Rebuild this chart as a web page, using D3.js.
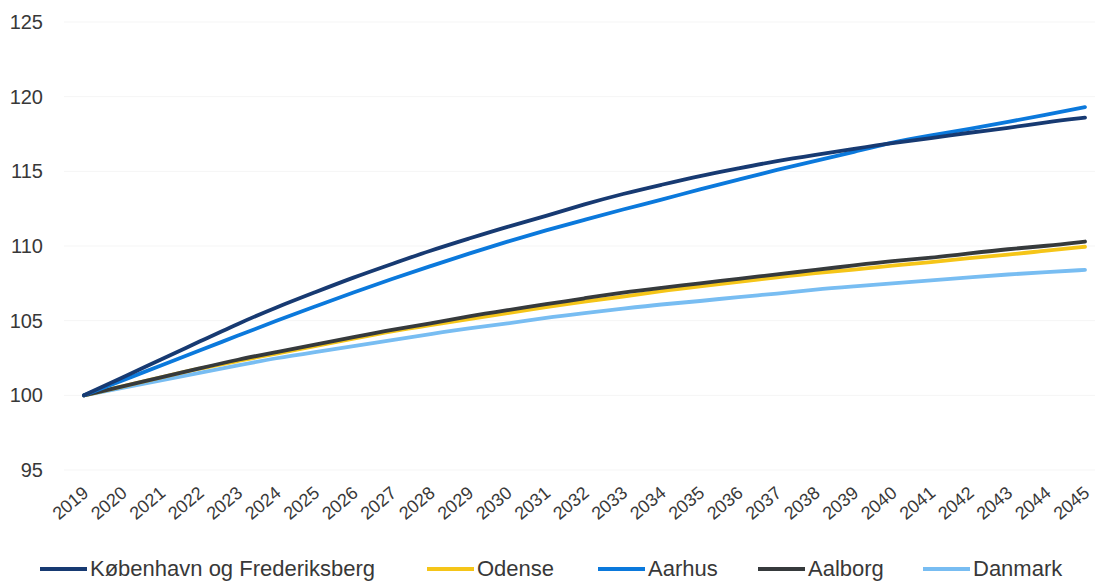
<!DOCTYPE html>
<html>
<head>
<meta charset="utf-8">
<script src="https://cdn.jsdelivr.net/npm/d3@7"></script>
<style>
  html, body { margin: 0; padding: 0; background: #ffffff; }
  svg { display: block; font-family: "Liberation Sans", Arial, sans-serif; }
</style>
</head>
<body>
<svg id="chart" width="1097" height="582"></svg>
<script>
// Befolkningsfremskrivning, indeks 2019 = 100
const years = d3.range(2019, 2046);

const kobenhavn = [100.0, 101.2, 102.4, 103.6, 104.8, 105.9, 106.9, 107.9, 108.8, 109.7,
  110.5, 111.3, 112.0, 112.8, 113.5, 114.1, 114.7, 115.2, 115.7, 116.1,
  116.5, 116.9, 117.2, 117.6, 117.9, 118.3, 118.6];
const odense = [100.0, 100.6, 101.2, 101.8, 102.3, 102.8, 103.3, 103.8, 104.3, 104.7,
  105.1, 105.5, 105.9, 106.3, 106.6, 107.0, 107.3, 107.6, 107.9, 108.2,
  108.4, 108.7, 108.9, 109.2, 109.4, 109.7, 109.95];
const aarhus = [100.0, 101.0, 102.0, 103.0, 104.0, 105.0, 105.95, 106.9, 107.8, 108.65,
  109.5, 110.3, 111.05, 111.75, 112.45, 113.1, 113.8, 114.45, 115.1, 115.7,
  116.3, 116.95, 117.4, 117.85, 118.3, 118.8, 119.3];
const aalborg = [100.0, 100.6, 101.2, 101.8, 102.4, 102.9, 103.4, 103.9, 104.4, 104.8,
  105.3, 105.7, 106.1, 106.5, 106.9, 107.2, 107.5, 107.8, 108.1, 108.4,
  108.7, 109.0, 109.2, 109.5, 109.8, 110.0, 110.3];
const danmark = [100.0, 100.5, 101.0, 101.5, 102.0, 102.5, 102.9, 103.3, 103.7, 104.1,
  104.5, 104.8, 105.2, 105.5, 105.8, 106.1, 106.3, 106.6, 106.8, 107.1,
  107.3, 107.5, 107.7, 107.9, 108.1, 108.25, 108.4];

const seriesNames = ["København og Frederiksberg", "Odense", "Aarhus", "Aalborg", "Danmark"];
const seriesValues = [kobenhavn, odense, aarhus, aalborg, danmark];
const seriesColors = ["#173a72", "#f5c518", "#0b79dc", "#363a3c", "#78bdf2"];
const yTicks = [95, 100, 105, 110, 115, 120, 125];

// draw order: lighter lines underneath, leading lines on top
const drawOrder = [4, 1, 3, 2, 0];

const svg = d3.select("#chart");

const x = d3.scaleLinear().domain([2019, 2045]).range([84, 1085]);
const y = d3.scaleLinear().domain([95, 125]).range([470, 22]);

// faint horizontal gridlines
svg.append("g")
  .selectAll("line")
  .data(yTicks)
  .join("line")
  .attr("x1", 64).attr("x2", 1095)
  .attr("y1", d => y(d)).attr("y2", d => y(d))
  .attr("stroke", "#f5f5f5")
  .attr("stroke-width", 1);

// y axis labels
const yAxis = d3.axisLeft(y).tickValues(yTicks).tickSize(0).tickPadding(0);
svg.append("g")
  .attr("transform", "translate(43,0)")
  .call(yAxis)
  .call(g => g.select(".domain").remove())
  .call(g => g.selectAll("text")
    .attr("font-size", 20)
    .attr("fill", "#383838")
    .attr("font-family", "'Liberation Sans', Arial, sans-serif"));

// x axis labels, rotated
const xAxis = d3.axisBottom(x).tickValues(years).tickFormat(d3.format("d")).tickSize(0).tickPadding(0);
svg.append("g")
  .attr("transform", "translate(0,478)")
  .call(xAxis)
  .call(g => g.select(".domain").remove())
  .call(g => g.selectAll("text")
    .attr("font-size", 18)
    .attr("fill", "#383838")
    .attr("font-family", "'Liberation Sans', Arial, sans-serif")
    .attr("text-anchor", "end")
    .attr("dy", "0.35em")
    .attr("y", 0)
    .attr("transform", "translate(1,12) rotate(-40)"));

// lines
const line = d3.line()
  .x((d, i) => x(years[i]))
  .y(d => y(d))
  .curve(d3.curveBasis);

svg.append("g")
  .selectAll("path")
  .data(drawOrder)
  .join("path")
  .attr("d", i => line(seriesValues[i]))
  .attr("fill", "none")
  .attr("stroke", i => seriesColors[i])
  .attr("stroke-width", 3.8)
  .attr("stroke-linecap", "round")
  .attr("stroke-linejoin", "round");

// legend
const legendX = [40, 427, 598, 758, 923];
const legend = svg.append("g");
seriesNames.forEach((name, i) => {
  const g = legend.append("g").attr("transform", `translate(${legendX[i]},569)`);
  g.append("line")
    .attr("x1", 0).attr("x2", 47)
    .attr("y1", 0).attr("y2", 0)
    .attr("stroke", seriesColors[i])
    .attr("stroke-width", 3.8);
  g.append("text")
    .attr("x", 50)
    .attr("y", 7)
    .attr("font-size", 22)
    .attr("fill", "#383838")
    .text(name);
});
</script>
</body>
</html>
